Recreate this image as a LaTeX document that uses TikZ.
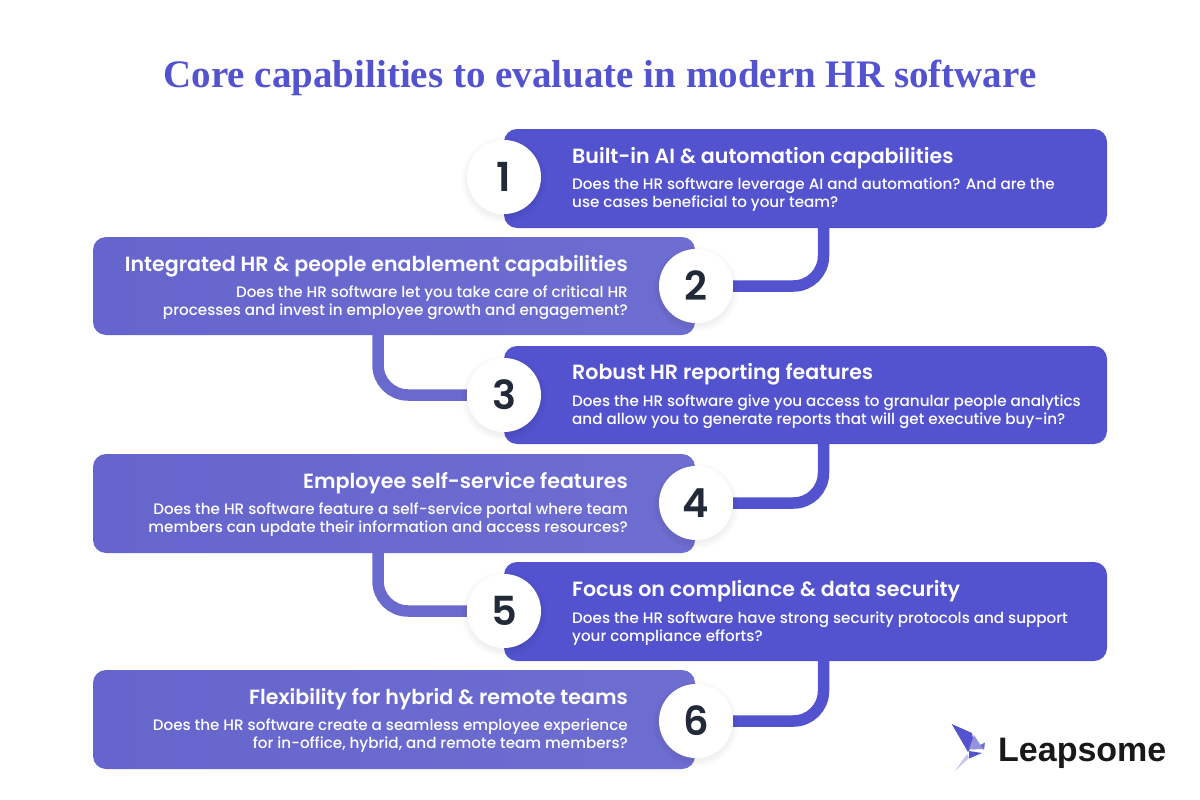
\documentclass[tikz,border=0pt]{standalone}
\usepackage{fontspec}
\setmainfont{Poppins}
\newfontfamily\descfont{Poppins Medium}
\newfontfamily\headfont{Poppins SemiBold}
\newfontfamily\titlefont{Liberation Serif}
\newfontfamily\logofont{Liberation Sans}
\usetikzlibrary{backgrounds}
\definecolor{deep}{HTML}{5353CF}
\definecolor{soft}{HTML}{6A69CE}
\definecolor{softL}{HTML}{6665CD}
\definecolor{softR}{HTML}{6E6DD1}
\definecolor{ink}{HTML}{222A3A}
\tikzset{
  x=1pt,y=-1pt,
  boxR/.style={fill=deep,rounded corners=13pt},
  boxL/.style={left color=softL,right color=softR,rounded corners=13pt},
  disc/.style={circle,fill=white,minimum size=74pt,inner sep=0pt,font=\fontsize{40}{40}\selectfont\headfont,text=ink},
  headR/.style={anchor=base west,inner sep=0pt,text=white,font=\fontsize{20.58}{24}\selectfont\headfont},
  headL/.style={anchor=base east,inner sep=0pt,text=white,font=\fontsize{20.58}{24}\selectfont\headfont},
  descR/.style={anchor=base west,inner sep=0pt,text=white,align=left,font=\fontsize{15.18}{18}\selectfont\descfont},
  descL/.style={anchor=base east,inner sep=0pt,text=white,align=right,font=\fontsize{15.18}{18}\selectfont\descfont},
  linkR/.style={draw=deep,line width=11.5pt,rounded corners=30pt},
  linkL/.style={draw=soft,line width=11.5pt,rounded corners=30pt},
}
\newcommand{\softshadow}[2]{%
  \foreach \r in {43,42,...,37}{\fill[black,opacity=0.007] (#1,#2+3) circle[radius=\r];}}
\begin{document}
\begin{tikzpicture}
\useasboundingbox (0,0) rectangle (1200,800);
\node[anchor=base,inner sep=0pt,text=deep,font=\fontsize{39}{39}\selectfont\titlefont\bfseries] (title) at (600,87.5) {Core capabilities to evaluate in modern HR software};

\path[boxR] (504,129) rectangle (1107,228); \coordinate (k1) at (823.5,228);
\path[boxL] (93,237) rectangle (695,335); \coordinate (k2) at (378,335);
\path[boxR] (504,346) rectangle (1107,444); \coordinate (k3) at (823.5,444);
\path[boxL] (93,454) rectangle (695,553); \coordinate (k4) at (378,553);
\path[boxR] (504,562) rectangle (1107,661); \coordinate (k5) at (823.5,661);
\path[boxL] (93,670) rectangle (695,769);

\softshadow{504}{177}\softshadow{696}{286}\softshadow{504}{395}\softshadow{696}{503}\softshadow{504}{611}\softshadow{696}{721}
\node[disc] (n1) at (504,177) {1};
\node[disc] (n2) at (696,286) {2};
\node[disc] (n3) at (504,395) {3};
\node[disc] (n4) at (696,503) {4};
\node[disc] (n5) at (504,611) {5};
\node[disc] (n6) at (696,721) {6};

\begin{scope}[on background layer]
\draw[linkR] (k1) |- (n2.east);
\draw[linkL] (k2) |- (n3.west);
\draw[linkR] (k3) |- (n4.east);
\draw[linkL] (k4) |- (n5.west);
\draw[linkR] (k5) |- (n6.east);
\end{scope}

\node[headR] (h1) at (572,163) {Built-in AI \& automation capabilities};
\node[descR] (d1) at (572,207) {Does the HR software leverage AI and automation? And are the\\use cases beneficial to your team?};
\node[headL] (h2) at (628,271) {Integrated HR \& people enablement capabilities};
\node[descL] (d2) at (628,315) {Does the HR software let you take care of critical HR\\processes and invest in employee growth and engagement?};
\node[headR] (h3) at (572,379) {Robust HR reporting features};
\node[descR] (d3) at (572,424) {Does the HR software give you access to granular people analytics\\and allow you to generate reports that will get executive buy-in?};
\node[headL] (h4) at (628,488) {Employee self-service features};
\node[descL] (d4) at (628,532) {Does the HR software feature a self-service portal where team\\members can update their information and access resources?};
\node[headR] (h5) at (572,596) {Focus on compliance \& data security};
\node[descR] (d5) at (572,641) {Does the HR software have strong security protocols and support\\your compliance efforts?};
\node[headL] (h6) at (628,704) {Flexibility for hybrid \& remote teams};
\node[descL] (d6) at (628,748) {Does the HR software create a seamless employee experience\\for in-office, hybrid, and remote team members?};

\fill[deep] (951.7,724) -- (972,733) -- (974,743.5) -- (968,752) -- cycle;
\fill[softR!75] (974,735) -- (983,749) -- (969,749.5) -- cycle;
\fill[deep] (969,751) -- (982,753) -- (969,758.5) -- cycle;
\fill[softR] (985,742.5) -- (984,750) -- (980,745) -- cycle;
\fill[softR!40] (967,754) -- (969,758) -- (955,771) -- cycle;
\node[anchor=base west,inner sep=0pt,text=black!90,font=\fontsize{34}{34}\selectfont\logofont\bfseries] (logo) at (998,761) {Leapsome};
\end{tikzpicture}
\end{document}
